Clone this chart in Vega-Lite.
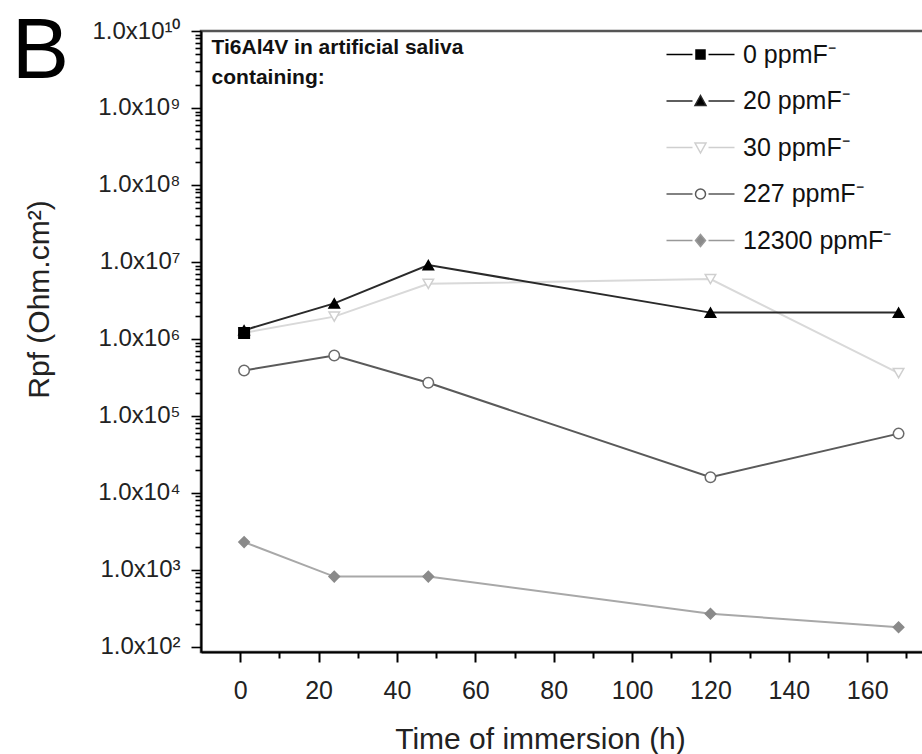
{
  "$schema": "https://vega.github.io/schema/vega-lite/v6.json",
  "autosize": {"type": "none"},
  "padding": {"left": 201, "top": 31, "right": 0, "bottom": 102},
  "width": 725,
  "height": 621,
  "background": "white",
  "config": {"view": {"stroke": "#555", "strokeWidth": 2.5}, "font": "Liberation Sans"},
  "data": {"values": [
    {"s": "12300 ppmF⁻", "t": 1, "r": 2300},
    {"s": "12300 ppmF⁻", "t": 24, "r": 820},
    {"s": "12300 ppmF⁻", "t": 48, "r": 820},
    {"s": "12300 ppmF⁻", "t": 120, "r": 270},
    {"s": "12300 ppmF⁻", "t": 168, "r": 180},
    {"s": "227 ppmF⁻", "t": 1, "r": 390000},
    {"s": "227 ppmF⁻", "t": 24, "r": 610000},
    {"s": "227 ppmF⁻", "t": 48, "r": 270000},
    {"s": "227 ppmF⁻", "t": 120, "r": 16000},
    {"s": "227 ppmF⁻", "t": 168, "r": 59000},
    {"s": "30 ppmF⁻", "t": 1, "r": 1200000},
    {"s": "30 ppmF⁻", "t": 24, "r": 1950000},
    {"s": "30 ppmF⁻", "t": 48, "r": 5200000},
    {"s": "30 ppmF⁻", "t": 120, "r": 6000000},
    {"s": "30 ppmF⁻", "t": 168, "r": 360000},
    {"s": "20 ppmF⁻", "t": 1, "r": 1300000},
    {"s": "20 ppmF⁻", "t": 24, "r": 2900000},
    {"s": "20 ppmF⁻", "t": 48, "r": 9100000},
    {"s": "20 ppmF⁻", "t": 120, "r": 2200000},
    {"s": "20 ppmF⁻", "t": 168, "r": 2200000},
    {"s": "0 ppmF⁻", "t": 1, "r": 1200000}
  ]},
  "layer": [
    {
      "mark": {"type": "line", "strokeWidth": 2,
        "stroke": {"expr": "datum.s === '0 ppmF⁻' ? '#000000' : datum.s === '20 ppmF⁻' ? '#2a2a2a' : datum.s === '30 ppmF⁻' ? '#d9d9d9' : datum.s === '227 ppmF⁻' ? '#5a5a5a' : '#a8a8a8'"}},
      "encoding": {
        "x": {"field": "t", "type": "quantitative",
          "scale": {"domain": [-10, 175], "nice": false, "zero": false},
          "axis": {"orient": "bottom", "values": [0, 10, 20, 30, 40, 50, 60, 70, 80, 90, 100, 110, 120, 130, 140, 150, 160, 170],
            "labelExpr": "datum.value % 20 == 0 ? datum.label : ''",
            "tickSize": {"condition": {"test": "datum.value % 20 == 0", "value": 10}, "value": 6},
            "title": "Time of immersion (h)",
            "domainColor": "#000", "domainWidth": 2, "tickColor": "#000", "tickWidth": 2,
            "labelFont": "Liberation Sans", "labelFontSize": 25, "labelColor": "#222", "labelPadding": 16, "labelFlush": false, "labelOverlap": false,
            "grid": false, "titleFont": "Liberation Sans", "titleFontSize": 30, "titleFontWeight": "normal", "titleColor": "#222",
            "titleX": 339, "titleY": 87, "titleBaseline": "middle"}},
        "y": {"field": "r", "type": "quantitative",
          "scale": {"type": "log", "domain": [86, 10000000000], "nice": false},
          "axis": {"orient": "left",
            "values": [100, 200, 300, 400, 500, 600, 700, 800, 900,
              1000, 2000, 3000, 4000, 5000, 6000, 7000, 8000, 9000,
              10000, 20000, 30000, 40000, 50000, 60000, 70000, 80000, 90000,
              100000, 200000, 300000, 400000, 500000, 600000, 700000, 800000, 900000,
              1000000, 2000000, 3000000, 4000000, 5000000, 6000000, 7000000, 8000000, 9000000,
              10000000, 20000000, 30000000, 40000000, 50000000, 60000000, 70000000, 80000000, 90000000,
              100000000, 200000000, 300000000, 400000000, 500000000, 600000000, 700000000, 800000000, 900000000,
              1000000000, 2000000000, 3000000000, 4000000000, 5000000000, 6000000000, 7000000000, 8000000000, 9000000000,
              10000000000],
            "labelExpr": "abs(log(datum.value)/LN10 - round(log(datum.value)/LN10)) > 0.001 ? '' : '1.0x10' + (datum.value >= 5e9 ? '¹⁰' : ['⁰','¹','²','³','⁴','⁵','⁶','⁷','⁸','⁹'][round(log(datum.value)/LN10)])",
            "tickSize": {"condition": {"test": "abs(log(datum.value)/LN10 - round(log(datum.value)/LN10)) < 0.001", "value": 10}, "value": 6},
            "title": "Rpf (Ohm.cm²)",
            "domainColor": "#000", "domainWidth": 2, "tickColor": "#000", "tickWidth": 1.6,
            "labelFont": "Liberation Sans", "labelFontSize": 24, "labelColor": "#222", "labelPadding": 11, "labelOverlap": false, "labelBound": false, "labelFlush": false,
            "grid": false, "titleFont": "Liberation Sans", "titleFontSize": 30, "titleFontWeight": "normal", "titleColor": "#222",
            "titleX": -162, "titleY": 268, "titleBaseline": "middle", "titleAngle": -90}},
        "detail": {"field": "s", "type": "nominal"}
      }
    },
    {
      "mark": {"type": "point", "strokeWidth": 1.5, "size": 110, "opacity": 1,
        "shape": {"expr": "datum.s === '0 ppmF⁻' ? 'square' : datum.s === '20 ppmF⁻' ? 'triangle-up' : datum.s === '30 ppmF⁻' ? 'triangle-down' : datum.s === '227 ppmF⁻' ? 'circle' : 'diamond'"},
        "fill": {"expr": "datum.s === '0 ppmF⁻' ? '#000000' : datum.s === '20 ppmF⁻' ? '#000000' : datum.s === '30 ppmF⁻' ? '#ffffff' : datum.s === '227 ppmF⁻' ? '#ffffff' : '#8a8a8a'"},
        "stroke": {"expr": "datum.s === '0 ppmF⁻' ? '#000000' : datum.s === '20 ppmF⁻' ? '#000000' : datum.s === '30 ppmF⁻' ? '#cfcfcf' : datum.s === '227 ppmF⁻' ? '#6a6a6a' : '#8a8a8a'"}},
      "encoding": {
        "x": {"field": "t", "type": "quantitative"},
        "y": {"field": "r", "type": "quantitative"}
      }
    },
    {
      "mark": {"type": "point", "opacity": 0},
      "encoding": {
        "x": {"field": "t", "type": "quantitative"},
        "y": {"field": "r", "type": "quantitative"},
        "shape": {"field": "s", "type": "nominal",
          "scale": {"domain": ["0 ppmF⁻", "20 ppmF⁻", "30 ppmF⁻", "227 ppmF⁻", "12300 ppmF⁻"],
            "range": ["M-6.8,0H-1.6M1.6,0H6.8M-0.9,-0.9H0.9V0.9H-0.9Z", "M-6.8,0H-1.6M1.6,0H6.8M0,-1.1L1.1,0.9H-1.1Z", "M-6.8,0H-1.6M1.6,0H6.8M0,1.1L1.1,-0.9H-1.1Z", "M-6.8,0H-1.6M1.6,0H6.8M-1,0A1,1 0 1,0 1,0A1,1 0 1,0 -1,0Z", "M-6.8,0H-1.6M1.6,0H6.8M0,-1.2L1,0L0,1.2L-1,0Z"]},
          "legend": {"title": null, "orient": "none", "legendX": 487, "legendY": 11, "padding": 0, "symbolSize": 100, "symbolStrokeWidth": 1.5, "symbolOpacity": 1,
            "labelFont": "Liberation Sans", "labelFontSize": 25, "labelColor": "#111", "labelOffset": 30, "rowPadding": 20.5, "labelLimit": 300}},
        "fill": {"field": "s", "type": "nominal",
          "scale": {"domain": ["0 ppmF⁻", "20 ppmF⁻", "30 ppmF⁻", "227 ppmF⁻", "12300 ppmF⁻"], "range": ["#000000", "#000000", "#ffffff", "#ffffff", "#8a8a8a"]}},
        "stroke": {"field": "s", "type": "nominal",
          "scale": {"domain": ["0 ppmF⁻", "20 ppmF⁻", "30 ppmF⁻", "227 ppmF⁻", "12300 ppmF⁻"], "range": ["#000000", "#2a2a2a", "#cfcfcf", "#5a5a5a", "#999999"]}}
      }
    },
    {
      "data": {"values": [{"t": -7.3, "r": 8300000000, "txt": ["Ti6Al4V in artificial saliva", "containing:"]}]},
      "mark": {"type": "text", "align": "left", "baseline": "top", "font": "Liberation Sans", "fontWeight": "bold", "fontSize": 21, "lineHeight": 30, "color": "#111"},
      "encoding": {
        "x": {"field": "t", "type": "quantitative"},
        "y": {"field": "r", "type": "quantitative"},
        "text": {"field": "txt"}
      }
    },
    {
      "data": {"values": [{"t": -58.3, "r": 2450000000, "txt": "B"}]},
      "mark": {"type": "text", "align": "left", "baseline": "alphabetic", "font": "Liberation Sans", "fontWeight": "normal", "fontSize": 86, "color": "#000", "clip": false},
      "encoding": {
        "x": {"field": "t", "type": "quantitative"},
        "y": {"field": "r", "type": "quantitative"},
        "text": {"field": "txt"}
      }
    }
  ]
}
